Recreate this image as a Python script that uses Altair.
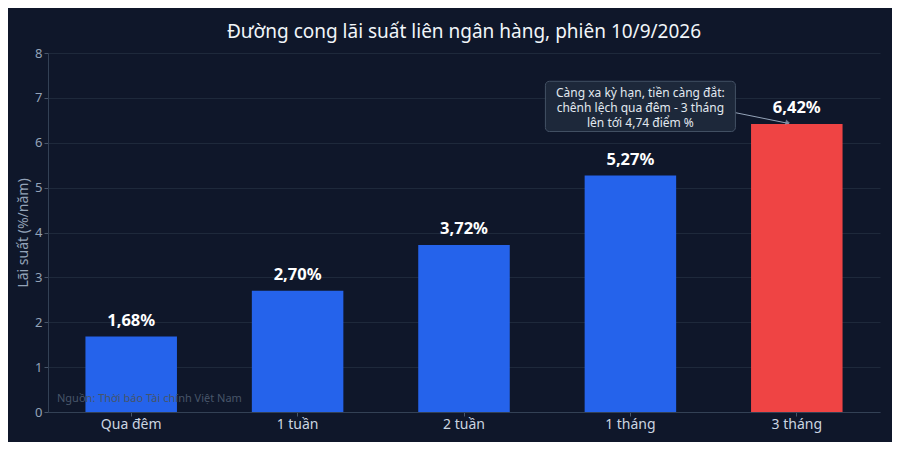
import altair as alt
import pandas as pd

categories = ["Qua đêm", "1 tuần", "2 tuần", "1 tháng", "3 tháng"]
rates = [1.68, 2.70, 3.72, 5.27, 6.42]
labels = ["1,68%", "2,70%", "3,72%", "5,27%", "6,42%"]
highlight = [False, False, False, False, True]

note_lines = ["Càng xa kỳ hạn, tiền càng đắt:", "chênh lệch qua đêm - 3 tháng", "lên tới 4,74 điểm %"]
source_text = "Nguồn: Thời báo Tài chính Việt Nam"

FONT = "Noto Sans"
BG = "#0f172a"

df = pd.DataFrame({"cat": categories, "rate": rates, "label": labels, "hl": highlight})

xscale = alt.Scale(domain=categories, paddingInner=0.45, paddingOuter=0.225)

xenc = alt.X("cat:N", title=None, scale=xscale,
             axis=alt.Axis(labelAngle=0, labelFontSize=14, labelColor="#cbd5e1",
                           labelPadding=1, tickColor="#475569", domainColor="#334155",
                           tickSize=4, grid=False))
yenc = alt.Y("rate:Q", title="Lãi suất (%/năm)",
             scale=alt.Scale(domain=[0, 8], nice=False),
             axis=alt.Axis(values=list(range(0, 9)), labelFontSize=13, labelColor="#94a3b8",
                           titleColor="#94a3b8", titleFontSize=14, titleFontWeight="normal",
                           titlePadding=4, gridColor="#1e293b", domainColor="#334155",
                           tickColor="#475569", tickSize=4))

bars = alt.Chart(df).mark_bar().encode(
    x=xenc, y=yenc,
    color=alt.Color("hl:N", scale=alt.Scale(domain=[False, True], range=["#2563eb", "#ef4444"]), legend=None),
)

text = alt.Chart(df).mark_text(baseline="bottom", dy=-8, fontSize=16.5, fontWeight="bold",
                               color="#ffffff", font=FONT).encode(
    x=alt.X("cat:N", scale=xscale), y="rate:Q", text="label:N")

source = alt.Chart(pd.DataFrame({"t": [source_text]})).mark_text(
    align="left", baseline="middle", fontSize=11, color="#475569", font=FONT
).encode(x=alt.value(9), y=alt.datum(0.3), text="t:N")

note_box = alt.Chart(pd.DataFrame({"c": ["1 tháng"]})).mark_rect(
    fill="#1e293b", stroke="#475569", strokeWidth=1, cornerRadius=4, opacity=0.95,
    width=190, xOffset=10
).encode(x=alt.X("c:N", scale=xscale), y=alt.datum(7.37), y2=alt.datum(6.25))

arrow_line = alt.Chart(pd.DataFrame({"a": ["1 tháng"], "b": ["3 tháng"]})).mark_rule(
    color="#94a3b8", strokeWidth=1, xOffset=105, x2Offset=-8
).encode(x=alt.X("a:N", scale=xscale), x2="b:N", y=alt.datum(6.67), y2=alt.datum(6.43))

arrow_head = alt.Chart(pd.DataFrame({"b": ["3 tháng"]})).mark_point(
    shape="triangle-right", filled=True, color="#94a3b8", size=30, angle=12, xOffset=-9
).encode(x=alt.X("b:N", scale=xscale), y=alt.datum(6.45))

note_df = pd.DataFrame({"c": ["1 tháng"], "txt": ["\n".join(note_lines)]})
note_text = alt.Chart(note_df).mark_text(
    fontSize=12, lineHeight=15, lineBreak="\n", color="#e2e8f0", font=FONT,
    baseline="middle", xOffset=10
).encode(x=alt.X("c:N", scale=xscale), y=alt.datum(7.1), text="txt:N")

chart = alt.layer(bars, text, source, arrow_line, arrow_head, note_box, note_text).properties(
    width=832, height=359,
    background=BG,
    padding={"left": 40, "top": 45, "right": 12, "bottom": 30},
    autosize=alt.AutoSizeParams(type="none"),
    title=alt.TitleParams("Đường cong lãi suất liên ngân hàng, phiên 10/9/2026",
                          fontSize=19, fontWeight="normal", color="#f1f5f9", font=FONT,
                          anchor="middle", offset=5),
).configure(font=FONT).configure_view(stroke=None).configure_axis(labelFont=FONT, titleFont=FONT)

chart.save("out.html", embed_options={"renderer": "svg", "actions": False})
